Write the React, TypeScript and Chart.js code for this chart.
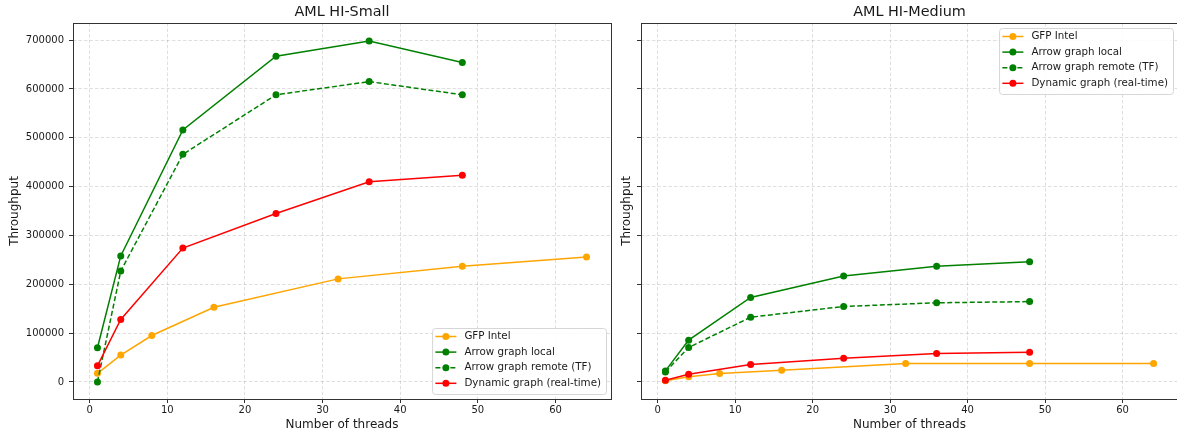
import React, { useEffect, useRef } from "react";
import { Chart, registerables } from "chart.js";

Chart.register(...registerables);

const FONT = '"DejaVu Sans", "Liberation Sans", sans-serif';

// Axis tick values
const xTicks = [0, 10, 20, 30, 40, 50, 60];
const yTicks = [0, 100000, 200000, 300000, 400000, 500000, 600000, 700000];

// Thread counts per series
const gfpThreads = [1, 4, 8, 16, 32, 48, 64];
const arrowThreads = [1, 4, 12, 24, 36, 48];

const seriesLabels = [
  "GFP Intel",
  "Arrow graph local",
  "Arrow graph remote (TF)",
  "Dynamic graph (real-time)",
];

// AML HI-Small throughput
const smallGfp = [17500, 55000, 95000, 153000, 211000, 237000, 256000];
const smallArrowLocal = [70000, 258000, 516000, 667000, 698000, 654000];
const smallArrowRemote = [0, 227000, 466000, 588000, 615000, 588000];
const smallDynamic = [33000, 128000, 274000, 345000, 410000, 423000];

// AML HI-Medium throughput
const mediumGfp = [2500, 10500, 17000, 24000, 37700, 37700, 37700];
const mediumArrowLocal = [22500, 85500, 173000, 217000, 237000, 246000];
const mediumArrowRemote = [20500, 70500, 132500, 154500, 162000, 164500];
const mediumDynamic = [3500, 15800, 35600, 48500, 58200, 60800];

const GRID_COLOR = "rgba(0,0,0,0.16)";
const AXIS_COLOR = "#333333";
const TEXT_COLOR = "#1a1a1a";

// Draws the full box around the plot area and an in-plot legend.
const panelDecor = {
  id: "panelDecor",
  afterDraw(chart: any, _args: any, opts: any) {
    const { ctx, chartArea } = chart;
    const { left, top, right, bottom } = chartArea;
    ctx.save();

    // frame, on the same pixel rows/columns as the axis borders
    ctx.strokeStyle = AXIS_COLOR;
    ctx.lineWidth = 1;
    ctx.setLineDash([]);
    const l = Math.round(left) + 0.5;
    const t = Math.round(top) + 0.5;
    const r = Math.round(right) + 0.5;
    const b = Math.round(bottom) + 0.5;
    ctx.strokeRect(l, t, r - l, b - t);

    // legend
    const fontPx = 10.3;
    ctx.font = `${fontPx}px ${FONT}`;
    const datasets = chart.data.datasets;
    const textW = Math.max(...datasets.map((d: any) => ctx.measureText(d.label).width));
    const w = 32.3 + textW + 5;
    const rowH = 15.6;
    const h = 66;
    const x = right - 5 - w;
    const y = opts.corner === "bottomRight" ? bottom - 5 - h : top + 5;

    ctx.beginPath();
    ctx.roundRect(x + 0.5, y + 0.5, w, h, 3);
    ctx.fillStyle = "rgba(255,255,255,0.85)";
    ctx.fill();
    ctx.strokeStyle = "#d6d6d6";
    ctx.lineWidth = 1;
    ctx.stroke();

    datasets.forEach((d: any, i: number) => {
      const cy = y + 8.5 + i * rowH;
      ctx.strokeStyle = d.borderColor;
      ctx.lineWidth = 1.5;
      ctx.setLineDash(d.borderDash || []);
      ctx.beginPath();
      ctx.moveTo(x + 3.3, cy);
      ctx.lineTo(x + 24.3, cy);
      ctx.stroke();
      ctx.setLineDash([]);
      ctx.fillStyle = d.borderColor;
      ctx.beginPath();
      ctx.arc(x + 13.8, cy, 3.5, 0, Math.PI * 2);
      ctx.fill();
      ctx.fillStyle = TEXT_COLOR;
      ctx.textBaseline = "middle";
      ctx.textAlign = "left";
      ctx.fillText(d.label, x + 32.3, cy);
    });

    ctx.restore();
  },
};

function points(xs: number[], ys: number[]) {
  return xs.map((x, i) => ({ x, y: ys[i] }));
}

function series(label: string, xs: number[], ys: number[], color: string, order: number, dash?: number[]) {
  return {
    label,
    data: points(xs, ys),
    borderColor: color,
    backgroundColor: color,
    pointBackgroundColor: color,
    pointBorderColor: color,
    pointBorderWidth: 0,
    pointRadius: 3.5,
    borderWidth: 1.5,
    borderDash: dash || [],
    tension: 0,
    fill: false,
    order,
  };
}

type PanelProps = {
  title: string;
  gfp: number[];
  local: number[];
  remote: number[];
  dyn: number[];
  left: number;
  width: number;
  yWidth: number;
  padRight: number;
  showYTickLabels: boolean;
  yTitlePad: number;
  corner: "bottomRight" | "topRight";
};

function Panel(props: PanelProps) {
  const ref = useRef<HTMLCanvasElement | null>(null);

  useEffect(() => {
    if (!ref.current) return;
    const chart = new Chart(ref.current, {
      type: "line",
      data: {
        datasets: [
          series(seriesLabels[0], gfpThreads, props.gfp, "orange", 3),
          series(seriesLabels[1], arrowThreads, props.local, "green", 2),
          series(seriesLabels[2], arrowThreads, props.remote, "green", 1, [5, 2.5]),
          series(seriesLabels[3], arrowThreads, props.dyn, "red", 0),
        ] as any,
      },
      options: {
        responsive: false,
        animation: false,
        devicePixelRatio: 1,
        events: [],
        layout: { padding: { left: 0, right: props.padRight, top: 0, bottom: 0 } },
        plugins: {
          legend: { display: false },
          tooltip: { enabled: false },
          title: {
            display: true,
            text: props.title,
            fullSize: false,
            color: TEXT_COLOR,
            font: { family: FONT, size: 14.4, weight: "normal" as any },
            padding: { top: 4, bottom: 1.72 },
          },
          panelDecor: { corner: props.corner },
        } as any,
        scales: {
          x: {
            type: "linear",
            min: -2.15,
            max: 67.15,
            afterBuildTicks: (s: any) => {
              s.ticks = xTicks.map((v) => ({ value: v }));
            },
            afterFit: (s: any) => {
              s.height = 35;
            },
            grid: {
              color: GRID_COLOR,
              lineWidth: 0.8,
              drawTicks: true,
              tickLength: 4,
              tickColor: AXIS_COLOR,
              tickWidth: 1,
              tickBorderDash: [],
            } as any,
            border: { display: false, dash: [3.5, 2] },
            ticks: {
              color: TEXT_COLOR,
              font: { family: FONT, size: 10 },
              padding: 1,
              maxRotation: 0,
              autoSkip: false,
            },
            title: {
              display: true,
              text: "Number of threads",
              color: TEXT_COLOR,
              font: { family: FONT, size: 12 },
              padding: { top: 0, bottom: 2 },
            },
          },
          y: {
            type: "linear",
            min: -35000,
            max: 735000,
            afterBuildTicks: (s: any) => {
              s.ticks = yTicks.map((v) => ({ value: v }));
            },
            afterFit: (s: any) => {
              s.width = props.yWidth;
            },
            grid: {
              color: GRID_COLOR,
              lineWidth: 0.8,
              drawTicks: true,
              tickLength: 4,
              tickColor: AXIS_COLOR,
              tickWidth: 1,
              tickBorderDash: [],
            } as any,
            border: { display: false, dash: [3.5, 2] },
            ticks: {
              display: props.showYTickLabels,
              color: TEXT_COLOR,
              font: { family: FONT, size: 10 },
              padding: 5,
              autoSkip: false,
              callback: (v: any) => String(v),
            },
            title: {
              display: true,
              text: "Throughput",
              color: TEXT_COLOR,
              font: { family: FONT, size: 12 },
              padding: { top: props.yTitlePad, bottom: 0 },
            },
          },
        },
      },
      plugins: [panelDecor as any],
    });
    return () => chart.destroy();
  }, []);

  return (
    <canvas
      ref={ref}
      width={props.width}
      height={434}
      style={{ position: "absolute", left: props.left, top: 0, display: "block" }}
    />
  );
}

export default function App() {
  return (
    <div
      style={{
        position: "absolute",
        left: 0,
        top: 0,
        width: 1177,
        height: 434,
        overflow: "hidden",
        background: "#ffffff",
      }}
    >
      <Panel
        title="AML HI-Small"
        gfp={smallGfp}
        local={smallArrowLocal}
        remote={smallArrowRemote}
        dyn={smallDynamic}
        left={0}
        width={620}
        yWidth={73}
        padRight={9}
        showYTickLabels={true}
        yTitlePad={8}
        corner="bottomRight"
      />
      <Panel
        title="AML HI-Medium"
        gfp={mediumGfp}
        local={mediumArrowLocal}
        remote={mediumArrowRemote}
        dyn={mediumDynamic}
        left={619}
        width={563}
        yWidth={22}
        padRight={2}
        showYTickLabels={false}
        yTitlePad={0.5}
        corner="topRight"
      />
    </div>
  );
}
